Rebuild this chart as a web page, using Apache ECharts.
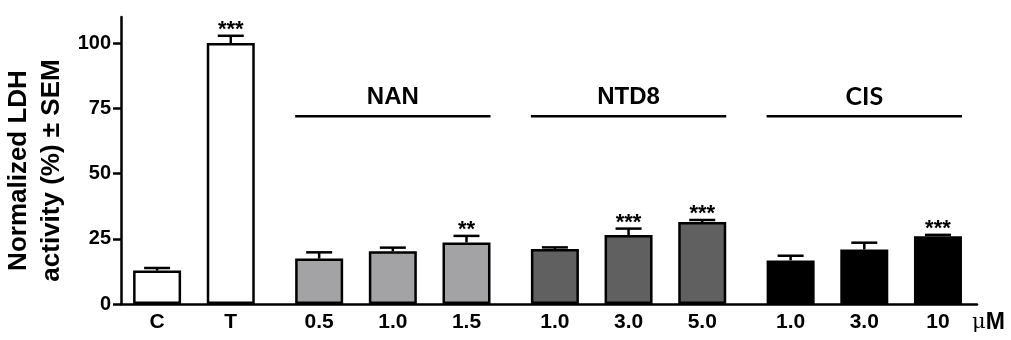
<!DOCTYPE html>
<html>
<head>
<meta charset="utf-8">
<script src="https://cdn.jsdelivr.net/npm/echarts@6/dist/echarts.min.js"></script>
<style>
  html, body { margin: 0; padding: 0; background: #fff; }
  #chart { width: 1011px; height: 340px; }
</style>
</head>
<body>
<div id="chart"></div>
<script>
// bar labels along x, and which group each bar belongs to
const labels = ['C', 'T', '0.5', '1.0', '1.5', '1.0', '3.0', '5.0', '1.0', '3.0', '10'];
const groupOf = [0, 0, 1, 1, 1, 2, 2, 2, 3, 3, 3];
const means = [12.8, 100, 17.4, 20.2, 23.6, 21.1, 26.4, 31.4, 16.7, 20.9, 26.0];
const sems = [1.0, 2.8, 2.4, 1.4, 2.5, 0.6, 2.5, 0.8, 1.8, 2.6, 0.5];
const stars = ['', '***', '', '', '**', '', '***', '***', '', '', '***'];
const barColors = ['#ffffff', '#a3a3a6', '#606060', '#000000'];
const groupNames = ['', 'NAN', 'NTD8', 'CIS'];
const groupLineLevel = 72;
const yTicks = [0, 25, 50, 75, 100];

const FONT = 'Liberation Sans';
const GAP = 0.2; // extra spacing between groups, in bar slots

const positions = labels.map((l, i) => i + groupOf[i] * GAP);

function labelFor(v) {
    const i = positions.findIndex(p => Math.abs(p - v) < 1e-6);
    return i >= 0 ? labels[i] : '';
}

// groups 1..3 get a line + title
const groupData = [];
for (let g = 1; g < groupNames.length; g++) {
    const idx = groupOf.map((x, i) => x === g ? i : -1).filter(i => i >= 0);
    groupData.push([positions[idx[0]], positions[idx[idx.length - 1]], groupLineLevel, g]);
}

const chart = echarts.init(document.getElementById('chart'));

const option = {
    animation: false,
    grid: { left: 121, right: 34, top: 17, bottom: 36, outerBoundsMode: 'none', containLabel: false },
    xAxis: {
        type: 'value',
        min: -0.49,
        max: 11.13,
        splitLine: { show: false },
        axisLine: { show: true, onZero: false, lineStyle: { color: '#000', width: 2.5 } },
        axisTick: { show: false },
        axisLabel: {
            customValues: positions,
            formatter: v => labelFor(v),
            color: '#000',
            fontFamily: FONT,
            fontWeight: 'bold',
            fontSize: 21,
            margin: 8
        }
    },
    yAxis: {
        type: 'value',
        min: 0,
        max: 110,
        interval: 25,
        splitLine: { show: false },
        axisLine: { show: true, onZero: false, lineStyle: { color: '#000', width: 2.5 } },
        axisTick: { show: true, length: 8, customValues: yTicks, lineStyle: { color: '#000', width: 2.5 } },
        axisLabel: {
            customValues: yTicks,
            color: '#000',
            fontFamily: FONT,
            fontWeight: 'bold',
            fontSize: 20,
            margin: 10
        },
        name: 'Normalized LDH\nactivity (%) ± SEM',
        nameLocation: 'middle',
        nameGap: 53,
        nameMoveOverlap: false,
        nameTextStyle: {
            color: '#000',
            fontFamily: FONT,
            fontWeight: 'bold',
            fontSize: 26,
            lineHeight: 33,
            padding: [0, 20, 0, 0]
        }
    },
    series: [
        {
            type: 'bar',
            barWidth: 48,
            data: positions.map((p, i) => ({
                value: [p, means[i]],
                itemStyle: { color: barColors[groupOf[i]] }
            })),
            itemStyle: { borderColor: '#000', borderWidth: 2.5 }
        },
        {
            // upper error bars with significance stars
            type: 'custom',
            data: positions.map((p, i) => [p, means[i], sems[i], i]),
            renderItem: function (params, api) {
                const x = api.value(0), m = api.value(1), s = api.value(2);
                const i = api.value(3);
                const base = api.coord([x, m]);
                const top = api.coord([x, m + s]);
                const style = { stroke: '#000', lineWidth: 2.5 };
                return {
                    type: 'group',
                    children: [
                        { type: 'line', shape: { x1: base[0], y1: base[1], x2: top[0], y2: top[1] }, style: style },
                        { type: 'line', shape: { x1: top[0] - 13, y1: top[1], x2: top[0] + 13, y2: top[1] }, style: style },
                        {
                            type: 'text',
                            x: top[0],
                            y: top[1] + 5,
                            style: {
                                text: stars[i],
                                fill: '#000',
                                font: 'bold 22px "' + FONT + '"',
                                align: 'center',
                                verticalAlign: 'bottom'
                            }
                        }
                    ]
                };
            },
            z: 3
        },
        {
            // group lines and titles
            type: 'custom',
            data: groupData,
            renderItem: function (params, api) {
                const a = api.coord([api.value(0), api.value(2)]);
                const b = api.coord([api.value(1), api.value(2)]);
                const g = api.value(3);
                return {
                    type: 'group',
                    children: [
                        { type: 'line', shape: { x1: a[0] - 24, y1: a[1], x2: b[0] + 24, y2: b[1] }, style: { stroke: '#000', lineWidth: 2.5 } },
                        {
                            type: 'text',
                            x: (a[0] + b[0]) / 2,
                            y: a[1] - 19,
                            style: {
                                text: groupNames[g],
                                fill: '#000',
                                font: g === 3 ? 'bold 25px Lato' : 'bold 24px "' + FONT + '"',
                                align: 'center',
                                verticalAlign: 'middle'
                            }
                        }
                    ]
                };
            }
        }
    ],
    graphic: [
        {
            type: 'text',
            left: 972,
            top: 311,
            style: {
                text: '{mu|μ}{m|M}',
                rich: {
                    mu: { fontFamily: 'DejaVu Serif', fontSize: 21, fill: '#000' },
                    m: { fontFamily: FONT, fontWeight: 'bold', fontSize: 23, fill: '#000' }
                }
            }
        }
    ]
};

chart.setOption(option);
</script>
</body>
</html>
